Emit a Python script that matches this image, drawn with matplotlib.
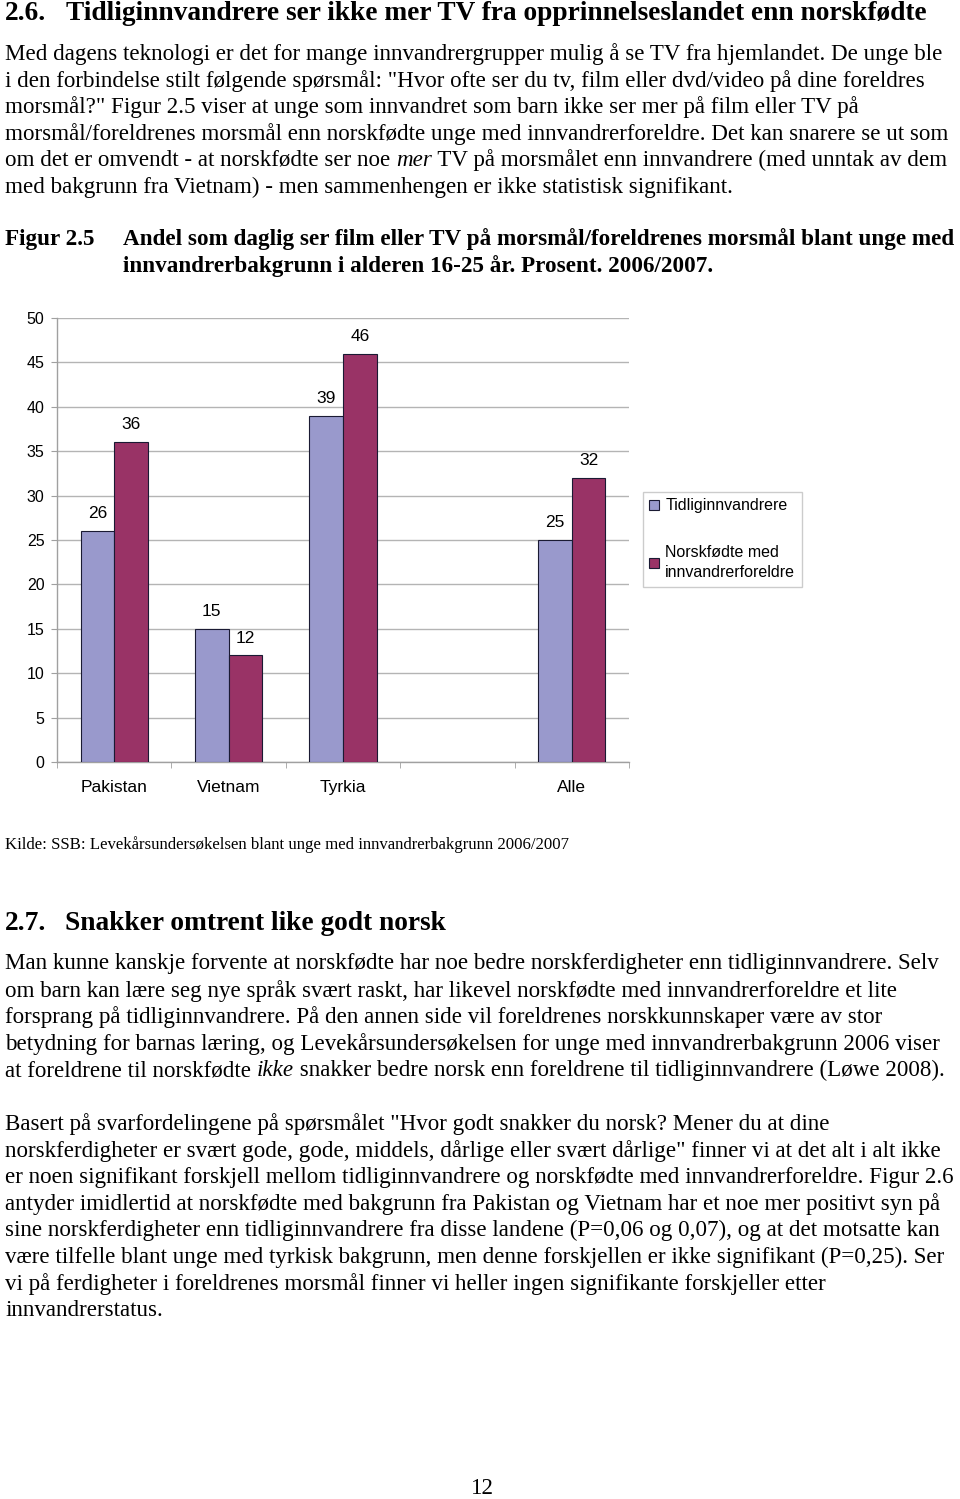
import numpy as np
import matplotlib.pyplot as plt

# data
categories = ['Pakistan', 'Vietnam', 'Tyrkia', '', 'Alle']
tidlig = [26, 15, 39, None, 25]
norskfodte = [36, 12, 46, None, 32]
series_names = ['Tidliginnvandrere', 'Norskfødte med\ninnvandrerforeldre']
yticks = [0, 5, 10, 15, 20, 25, 30, 35, 40, 45, 50]

para1 = [
    [("Med dagens teknologi er det for mange innvandrergrupper mulig å se TV fra hjemlandet. De unge ble", 'normal')],
    [("i den forbindelse stilt følgende spørsmål: \"Hvor ofte ser du tv, film eller dvd/video på dine foreldres", 'normal')],
    [("morsmål?\" Figur 2.5 viser at unge som innvandret som barn ikke ser mer på film eller TV på", 'normal')],
    [("morsmål/foreldrenes morsmål enn norskfødte unge med innvandrerforeldre. Det kan snarere se ut som", 'normal')],
    [("om det er omvendt - at norskfødte ser noe ", 'normal'), ("mer", 'italic'),
     (" TV på morsmålet enn innvandrere (med unntak av dem", 'normal')],
    [("med bakgrunn fra Vietnam) - men sammenhengen er ikke statistisk signifikant.", 'normal')],
]
para2 = [
    [("Man kunne kanskje forvente at norskfødte har noe bedre norskferdigheter enn tidliginnvandrere. Selv", 'normal')],
    [("om barn kan lære seg nye språk svært raskt, har likevel norskfødte med innvandrerforeldre et lite", 'normal')],
    [("forsprang på tidliginnvandrere. På den annen side vil foreldrenes norskkunnskaper være av stor", 'normal')],
    [("betydning for barnas læring, og Levekårsundersøkelsen for unge med innvandrerbakgrunn 2006 viser", 'normal')],
    [("at foreldrene til norskfødte ", 'normal'), ("ikke", 'italic'),
     (" snakker bedre norsk enn foreldrene til tidliginnvandrere (Løwe 2008).", 'normal')],
]
para3 = [
    [("Basert på svarfordelingene på spørsmålet \"Hvor godt snakker du norsk? Mener du at dine", 'normal')],
    [("norskferdigheter er svært gode, gode, middels, dårlige eller svært dårlige\" finner vi at det alt i alt ikke", 'normal')],
    [("er noen signifikant forskjell mellom tidliginnvandrere og norskfødte med innvandrerforeldre. Figur 2.6", 'normal')],
    [("antyder imidlertid at norskfødte med bakgrunn fra Pakistan og Vietnam har et noe mer positivt syn på", 'normal')],
    [("sine norskferdigheter enn tidliginnvandrere fra disse landene (P=0,06 og 0,07), og at det motsatte kan", 'normal')],
    [("være tilfelle blant unge med tyrkisk bakgrunn, men denne forskjellen er ikke signifikant (P=0,25). Ser", 'normal')],
    [("vi på ferdigheter i foreldrenes morsmål finner vi heller ingen signifikante forskjeller etter", 'normal')],
    [("innvandrerstatus.", 'normal')],
]

W, H = 960, 1499
fig = plt.figure(figsize=(W / 100, H / 100), dpi=100)
fig.patch.set_facecolor('white')
renderer = fig.canvas.get_renderer()
SERIF = 'Liberation Serif'
SANS = 'Liberation Sans'
BODY = 16.6
HEAD = 19.75


def put(x, y, s, size=BODY, weight='normal', style='normal', family=SERIF, ha='left'):
    return fig.text(x / W, 1 - y / H, s, fontsize=size, fontweight=weight, fontstyle=style,
                    family=family, ha=ha, va='center')


def line(y, parts, x=5, size=BODY):
    for txt, st in parts:
        t = put(x, y, txt, size=size, style=st)
        x += t.get_window_extent(renderer).width


# heading 2.6
put(5, 13, "2.6.", size=HEAD, weight='bold')
put(66, 13, "Tidliginnvandrere ser ikke mer TV fra opprinnelseslandet enn norskfødte", size=HEAD, weight='bold')

for i, ln in enumerate(para1):
    line(54 + i * 26.6, ln)

put(5, 239, "Figur 2.5", size=16.7, weight='bold')
put(123, 239, "Andel som daglig ser film eller TV på morsmål/foreldrenes morsmål blant unge med",
    size=16.7, weight='bold')
put(123, 266, "innvandrerbakgrunn i alderen 16-25 år. Prosent. 2006/2007.", size=16.7, weight='bold')

# chart
ax = fig.add_axes([57 / W, 1 - 762 / H, 572 / W, 444 / H])
x = np.arange(len(categories))
bw = 0.293
t_vals = [v if v is not None else 0 for v in tidlig]
n_vals = [v if v is not None else 0 for v in norskfodte]
mask = np.array([v is not None for v in tidlig])
b1 = ax.bar(x[mask] - bw / 2, np.array(t_vals)[mask], bw, color='#9999cc', edgecolor='#1a1a33',
            linewidth=0.8, label=series_names[0], zorder=3)
b2 = ax.bar(x[mask] + bw / 2, np.array(n_vals)[mask], bw, color='#993366', edgecolor='#1a1a33',
            linewidth=0.8, label=series_names[1], zorder=3)
for bars in (b1, b2):
    for r in bars:
        ax.annotate(f"{int(r.get_height())}", (r.get_x() + r.get_width() / 2, r.get_height()),
                    xytext=(0, 12.5), textcoords='offset points', ha='center', va='center',
                    fontsize=12.5, family=SANS)

ax.set_xlim(-0.5, len(categories) - 0.5)
ax.set_ylim(0, 50)
ax.set_yticks(yticks)
ax.set_xticks(x)
ax.set_xticklabels(categories, fontsize=12.5, family=SANS)
ax.set_xticks(np.arange(len(categories) + 1) - 0.5, minor=True)
ax.tick_params(axis='x', which='major', length=0, pad=13)
ax.tick_params(axis='x', which='minor', length=4, color='#a0a0a0', direction='out')
ax.tick_params(axis='y', length=4, color='#a0a0a0', pad=5, labelsize=11.5)
for lb in ax.get_yticklabels():
    lb.set_family(SANS)
ax.grid(axis='y', color='#b4b4b4', linewidth=1, zorder=0)
for s in ['top', 'right']:
    ax.spines[s].set_visible(False)
for s in ['left', 'bottom']:
    ax.spines[s].set_color('#a0a0a0')
    ax.spines[s].set_linewidth(1)

leg = fig.legend(handles=[b1, b2], labels=series_names, loc='upper left',
                 bbox_to_anchor=(643 / W, 1 - 492 / H), prop={'family': SANS, 'size': 11.5},
                 handlelength=0.6, handleheight=0.6, handletextpad=0.4, labelspacing=2.0,
                 borderpad=0.4, fancybox=False, frameon=True, borderaxespad=0)
for t in leg.get_texts():
    t.set_linespacing(1.4)
leg.get_frame().set_edgecolor('#c0c0c0')
leg.get_frame().set_linewidth(1)

put(5, 845, "Kilde: SSB: Levekårsundersøkelsen blant unge med innvandrerbakgrunn 2006/2007", size=12.1)

# heading 2.7
put(5, 923, "2.7.", size=HEAD, weight='bold')
put(65, 923, "Snakker omtrent like godt norsk", size=HEAD, weight='bold')

for i, ln in enumerate(para2):
    line(964 + i * 26.7, ln)
for i, ln in enumerate(para3):
    line(1124 + i * 26.7, ln)

put(482, 1489, "12", ha='center')

fig.savefig('out.png', dpi=100)
